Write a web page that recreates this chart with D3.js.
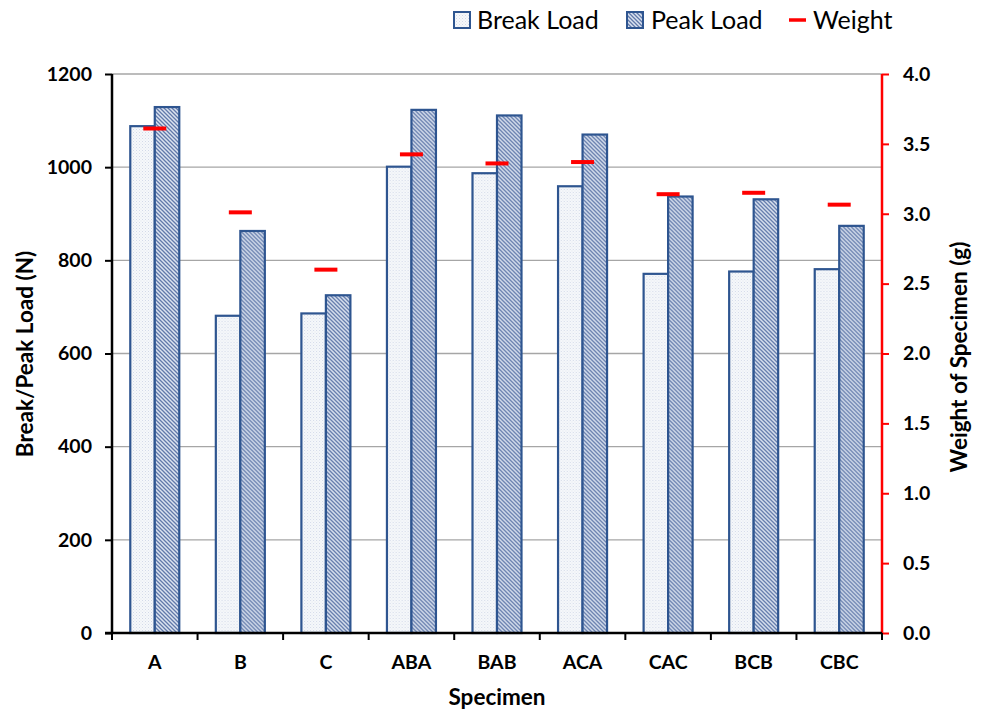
<!DOCTYPE html>
<html><head><meta charset="utf-8">
<script src="https://cdn.jsdelivr.net/npm/d3@7"></script>
<style>body{margin:0;background:#fff}svg{display:block;font-family:Lato,"Open Sans",sans-serif}</style>
</head><body><svg id="c" width="986" height="713"></svg>
<script>
const categories = ["A","B","C","ABA","BAB","ACA","CAC","BCB","CBC"];
const breakLoad = [1088, 681, 686, 1001, 987, 959, 771, 776, 781];
const peakLoad  = [1129, 863, 725, 1123, 1111, 1070, 937, 931, 874];
const weight    = [3.61, 3.01, 2.60, 3.425, 3.36, 3.37, 3.14, 3.15, 3.065];
const loadTicks = [0, 200, 400, 600, 800, 1000, 1200];
const weightTicks = [0, 0.5, 1.0, 1.5, 2.0, 2.5, 3.0, 3.5, 4.0];
const seriesNames = ["Break Load", "Peak Load"];

const svg = d3.select("#c");
const L = 112, R = 882, T = 74, B = 633;
const blue = "#2e5590";

const defs = svg.append("defs");
const pb = defs.append("pattern").attr("id","pBreak").attr("patternUnits","userSpaceOnUse").attr("width",3).attr("height",3);
pb.append("rect").attr("width",3).attr("height",3).attr("fill","#f6f8fb");
pb.append("rect").attr("x",0).attr("y",0).attr("width",1).attr("height",1).attr("fill","#d3dae8");
pb.append("rect").attr("x",1.5).attr("y",1.5).attr("width",1).attr("height",1).attr("fill","#dfe4ee");
const pp = defs.append("pattern").attr("id","pPeak").attr("patternUnits","userSpaceOnUse").attr("width",4).attr("height",4);
pp.append("rect").attr("width",4).attr("height",4).attr("fill","#dbe3f0");
pp.append("path").attr("d","M-1,-1 L5,5 M-1,3 L1,5 M3,-1 L5,1").attr("stroke","#6179aa").attr("stroke-width",1.3);

const x = d3.scaleBand().domain(categories).range([L, R]).paddingInner(0).paddingOuter(0);
const x1 = d3.scaleBand().domain(seriesNames).range([0, x.bandwidth()]).paddingInner(0).paddingOuter(0.746);
const y = d3.scaleLinear().domain([0, 1200]).range([B, T]);
const y2 = d3.scaleLinear().domain([0, 4]).range([B, T]);

// gridlines
svg.append("g").selectAll("line").data(loadTicks.filter(d => d > 0)).join("line")
  .attr("x1", L).attr("x2", R).attr("y1", d => y(d)).attr("y2", d => y(d))
  .attr("stroke", "#a6a6a6").attr("stroke-width", 1.3);

// bars
const data = categories.map((c, i) => ({c, vals: [breakLoad[i], peakLoad[i]], w: weight[i]}));
const groups = svg.append("g").selectAll("g").data(data).join("g")
  .attr("transform", d => `translate(${x(d.c)},0)`);
groups.selectAll("rect").data(d => d.vals.map((v, k) => ({s: seriesNames[k], v, k}))).join("rect")
  .attr("x", d => x1(d.s)).attr("width", x1.bandwidth())
  .attr("y", d => y(d.v)).attr("height", d => y(0) - y(d.v))
  .attr("fill", d => d.k === 0 ? "url(#pBreak)" : "url(#pPeak)")
  .attr("stroke", blue).attr("stroke-width", 2.2);

// weight markers
svg.append("g").selectAll("line").data(data).join("line")
  .attr("x1", d => x(d.c) + x.bandwidth()/2 - 11.5).attr("x2", d => x(d.c) + x.bandwidth()/2 + 11.5)
  .attr("y1", d => y2(d.w)).attr("y2", d => y2(d.w))
  .attr("stroke", "#ff0000").attr("stroke-width", 4);

// left axis
const ga = svg.append("g").attr("transform", `translate(${L},0)`)
  .call(d3.axisLeft(y).tickValues(loadTicks).tickSize(7).tickPadding(13).tickFormat(d3.format("d")));
ga.select(".domain").attr("stroke", "#000").attr("stroke-width", 2.5).attr("d", `M0,${T}V${B}`);
ga.selectAll(".tick line").attr("stroke", "#000").attr("stroke-width", 2);
ga.selectAll("text").attr("font-size", 19.5).attr("font-weight", "bold").attr("fill", "#000").attr("font-family", "Lato");

// right axis
const gr = svg.append("g").attr("transform", `translate(${R},0)`)
  .call(d3.axisRight(y2).tickValues(weightTicks).tickSize(7).tickPadding(14).tickFormat(d3.format(".1f")));
gr.select(".domain").attr("stroke", "#ff0000").attr("stroke-width", 2.5).attr("d", `M0,${T}V${B}`);
gr.selectAll(".tick line").attr("stroke", "#ff0000").attr("stroke-width", 2);
gr.selectAll("text").attr("font-size", 19.5).attr("font-weight", "bold").attr("fill", "#000").attr("font-family", "Lato");

// bottom axis
const gb = svg.append("g").attr("transform", `translate(0,${B})`);
gb.append("line").attr("x1", L - 7).attr("x2", R).attr("y1", 0).attr("y2", 0).attr("stroke", "#000").attr("stroke-width", 2.5);
gb.selectAll("line.t").data(categories.concat(["_end"])).join("line").attr("class","t")
  .attr("x1", (d, i) => L + i * x.step()).attr("x2", (d, i) => L + i * x.step())
  .attr("y1", 0).attr("y2", 7).attr("stroke", "#000").attr("stroke-width", 2);
gb.selectAll("text").data(categories).join("text")
  .attr("x", d => x(d) + x.bandwidth()/2).attr("y", 36)
  .attr("text-anchor", "middle").attr("font-size", 19.5).attr("font-weight", "bold").text(d => d);

// axis titles
svg.append("text").attr("x", 497).attr("y", 705).attr("text-anchor", "middle")
  .attr("font-size", 22.5).attr("font-weight", "bold").text("Specimen");
svg.append("text").attr("transform", "translate(33,354) rotate(-90)").attr("text-anchor", "middle")
  .attr("font-size", 22.5).attr("font-weight", "bold").text("Break/Peak Load (N)");
svg.append("text").attr("transform", "translate(967,357) rotate(-90)").attr("text-anchor", "middle")
  .attr("font-size", 22.5).attr("font-weight", "bold").text("Weight of Specimen (g)");

// legend
const lg = svg.append("g");
lg.append("rect").attr("x", 454).attr("y", 12).attr("width", 16).attr("height", 16).attr("fill", "url(#pBreak)").attr("stroke", blue).attr("stroke-width", 2);
lg.append("text").attr("x", 477).attr("y", 29).attr("font-size", 25).text("Break Load");
lg.append("rect").attr("x", 627).attr("y", 12).attr("width", 16).attr("height", 16).attr("fill", "url(#pPeak)").attr("stroke", blue).attr("stroke-width", 2);
lg.append("text").attr("x", 651).attr("y", 29).attr("font-size", 25).text("Peak Load");
lg.append("line").attr("x1", 789).attr("x2", 806).attr("y1", 20).attr("y2", 20).attr("stroke", "#ff0000").attr("stroke-width", 3.5);
lg.append("text").attr("x", 813).attr("y", 29).attr("font-size", 25).text("Weight");
</script></body></html>
